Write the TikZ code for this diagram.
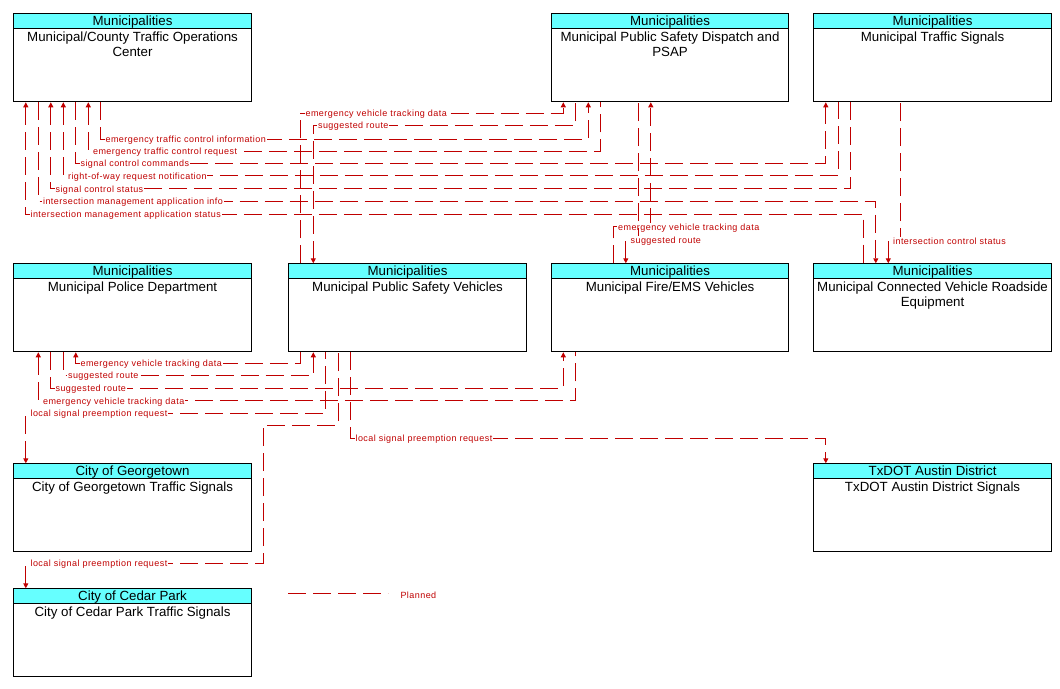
\documentclass[tikz,border=0pt]{standalone}
\usepackage{fontspec}
\setmainfont{Liberation Sans}
\newfontfamily\lblfont[LetterSpace=5]{Liberation Sans}
\usetikzlibrary{arrows.meta}
\definecolor{flowred}{RGB}{192,0,0}
\definecolor{hdrcyan}{RGB}{102,255,255}
\begin{document}
\begin{tikzpicture}[x=1pt,y=-1pt,
  >={Triangle[width=5pt,length=5pt]},
  box/.style={draw=black, line width=1pt, fill=white, minimum width=237.5pt, minimum height=88pt, inner sep=0pt, anchor=north west},
  hdr/.style={draw=black, line width=1pt, fill=hdrcyan, minimum width=237.5pt, minimum height=15pt, inner sep=0pt, text height=10pt, text depth=1pt, anchor=north, font=\fontsize{13.3}{15}\selectfont},
  bodytxt/.style={anchor=north, align=center, inner sep=0pt, font=\fontsize{13.3}{15}\selectfont},
  flow/.style={draw=flowred, line width=1pt, dash pattern=on 18pt off 7pt},
  lbl/.style={fill=white, inner sep=0.8pt, anchor=west, text=flowred, font=\lblfont\fontsize{9}{10}\selectfont, xshift=3.5pt, yshift=-1.5pt},
]
\useasboundingbox (0,0) rectangle (1060,688);

% boxes
\node[box] (toc)  at (13.3,13.3) {};
\node[box] (disp) at (550.8,13.3) {};
\node[box] (sig)  at (813.3,13.3) {};
\node[box] (pol)  at (13.3,263.3) {};
\node[box] (psv)  at (288.3,263.3) {};
\node[box] (fire) at (550.8,263.3) {};
\node[box] (cvre) at (813.3,263.3) {};
\node[box] (geo)  at (13.3,463.3) {};
\node[box] (tx)   at (813.3,463.3) {};
\node[box] (ced)  at (13.3,588.3) {};

\node[hdr] (tocH)  at (toc.north)  {Municipalities};
\node[hdr] (dispH) at (disp.north) {Municipalities};
\node[hdr] (sigH)  at (sig.north)  {Municipalities};
\node[hdr] (polH)  at (pol.north)  {Municipalities};
\node[hdr] (psvH)  at (psv.north)  {Municipalities};
\node[hdr] (fireH) at (fire.north) {Municipalities};
\node[hdr] (cvreH) at (cvre.north) {Municipalities};
\node[hdr] (geoH)  at (geo.north)  {City of Georgetown};
\node[hdr] (txH)   at (tx.north)   {TxDOT Austin District};
\node[hdr] (cedH)  at (ced.north)  {City of Cedar Park};

\node[bodytxt] (tocB)  at ([yshift=-2pt]tocH.south)  {Municipal/County Traffic Operations\\Center};
\node[bodytxt] (dispB) at ([yshift=-2pt]dispH.south) {Municipal Public Safety Dispatch and\\PSAP};
\node[bodytxt] (sigB)  at ([yshift=-2pt]sigH.south)  {Municipal Traffic Signals};
\node[bodytxt] (polB)  at ([yshift=-2pt]polH.south)  {Municipal Police Department};
\node[bodytxt] (psvB)  at ([yshift=-2pt]psvH.south)  {Municipal Public Safety Vehicles};
\node[bodytxt] (fireB) at ([yshift=-2pt]fireH.south) {Municipal Fire/EMS Vehicles};
\node[bodytxt] (cvreB) at ([yshift=-2pt]cvreH.south) {Municipal Connected Vehicle Roadside\\Equipment};
\node[bodytxt] (geoB)  at ([yshift=-2pt]geoH.south)  {City of Georgetown Traffic Signals};
\node[bodytxt] (txB)   at ([yshift=-2pt]txH.south)   {TxDOT Austin District Signals};
\node[bodytxt] (cedB)  at ([yshift=-2pt]cedH.south)  {City of Cedar Park Traffic Signals};

% attachment points
\foreach \n in {toc,disp,sig,pol,psv,fire,cvre,geo,tx,ced}{
  \foreach \k in {1,...,8}{
    \coordinate (\n-s\k) at ([xshift=\k*12.5pt]\n.south west);
    \coordinate (\n-n\k) at ([xshift=\k*12.5pt]\n.north west);
  }
}
% levels
\foreach \nm/\y in {a/113,b/125,c/139,d/151,e/163,f/175.5,g/188.5,h/201,i/214,j/226.5,k/239.5,l/363,m/375,n/388,o/400.5,p/413,q/425,r/438,s/563}{
  \coordinate (L\nm) at (0,\y);
}
\coordinate (jog) at (263.3,425);

% TOC flows
\draw[flow,->] (toc-s7) -- (toc-s7 |- Lc) node[lbl]{emergency traffic control information} -| (disp-s3);
\draw[flow,<-] (toc-s6) -- (toc-s6 |- Ld) node[lbl]{emergency traffic control request} -| (disp-s4);
\draw[flow,->] (toc-s5) -- (toc-s5 |- Le) node[lbl]{signal control commands} -| (sig-s1);
\draw[flow,<-] (toc-s4) -- (toc-s4 |- Lf) node[lbl]{right-of-way request notification} -| (sig-s2);
\draw[flow,<-] (toc-s3) -- (toc-s3 |- Lg) node[lbl]{signal control status} -| (sig-s3);
\draw[flow,->] (toc-s2) -- (toc-s2 |- Lh) node[lbl]{intersection management application info} -| (cvre-n5);
\draw[flow,<-] (toc-s1) -- (toc-s1 |- Li) node[lbl]{intersection management application status} -| (cvre-n4);

% PSV - Dispatch
\draw[flow,->] (psv-n1) -- (psv-n1 |- La) node[lbl]{emergency vehicle tracking data} -| (disp-s1);
\draw[flow,<-] (psv-n2) -- (psv-n2 |- Lb) node[lbl]{suggested route} -| (disp-s2);
% Fire - Dispatch
\draw[flow,->] (fire-n5) -- (fire-n5 |- Lj) node[lbl]{emergency vehicle tracking data} -| (disp-s8);
\draw[flow,<-] (fire-n6) -- (fire-n6 |- Lk) node[lbl]{suggested route} -| (disp-s7);
% Signals - CVRE
\draw[flow,<-] (cvre-n6) -- (cvre-n6 |- Lk) node[lbl]{intersection control status} -| (sig-s7);

% Police flows
\draw[flow,<-] (pol-s5) -- (pol-s5 |- Ll) node[lbl]{emergency vehicle tracking data} -| (psv-s1);
\draw[flow,->] (pol-s4) -- (pol-s4 |- Lm) node[lbl]{suggested route} -| (psv-s2);
\draw[flow,->] (pol-s3) -- (pol-s3 |- Ln) node[lbl]{suggested route} -| (fire-s1);
\draw[flow,<-] (pol-s2) -- (pol-s2 |- Lo) node[lbl]{emergency vehicle tracking data} -| (fire-s2);

% PSV to signals
\draw[flow,<-] (geo-n1) -- (geo-n1 |- Lp) node[lbl]{local signal preemption request} -| (psv-s3);
\draw[flow,<-] (ced-n1) -- (ced-n1 |- Ls) node[lbl]{local signal preemption request} -| (jog) -| (psv-s4);
\draw[flow,->] (psv-s5) -- (psv-s5 |- Lr) node[lbl]{local signal preemption request} -| (tx-n1);

% legend
\coordinate (lg1) at (288.3,593.3);
\coordinate (lg2) at (388.3,593.3);
\draw[flow] (lg1) -- (lg2);
\node[lbl, xshift=0pt, yshift=0pt] (lgt) at (396,594) {Planned};
\end{tikzpicture}
\end{document}
